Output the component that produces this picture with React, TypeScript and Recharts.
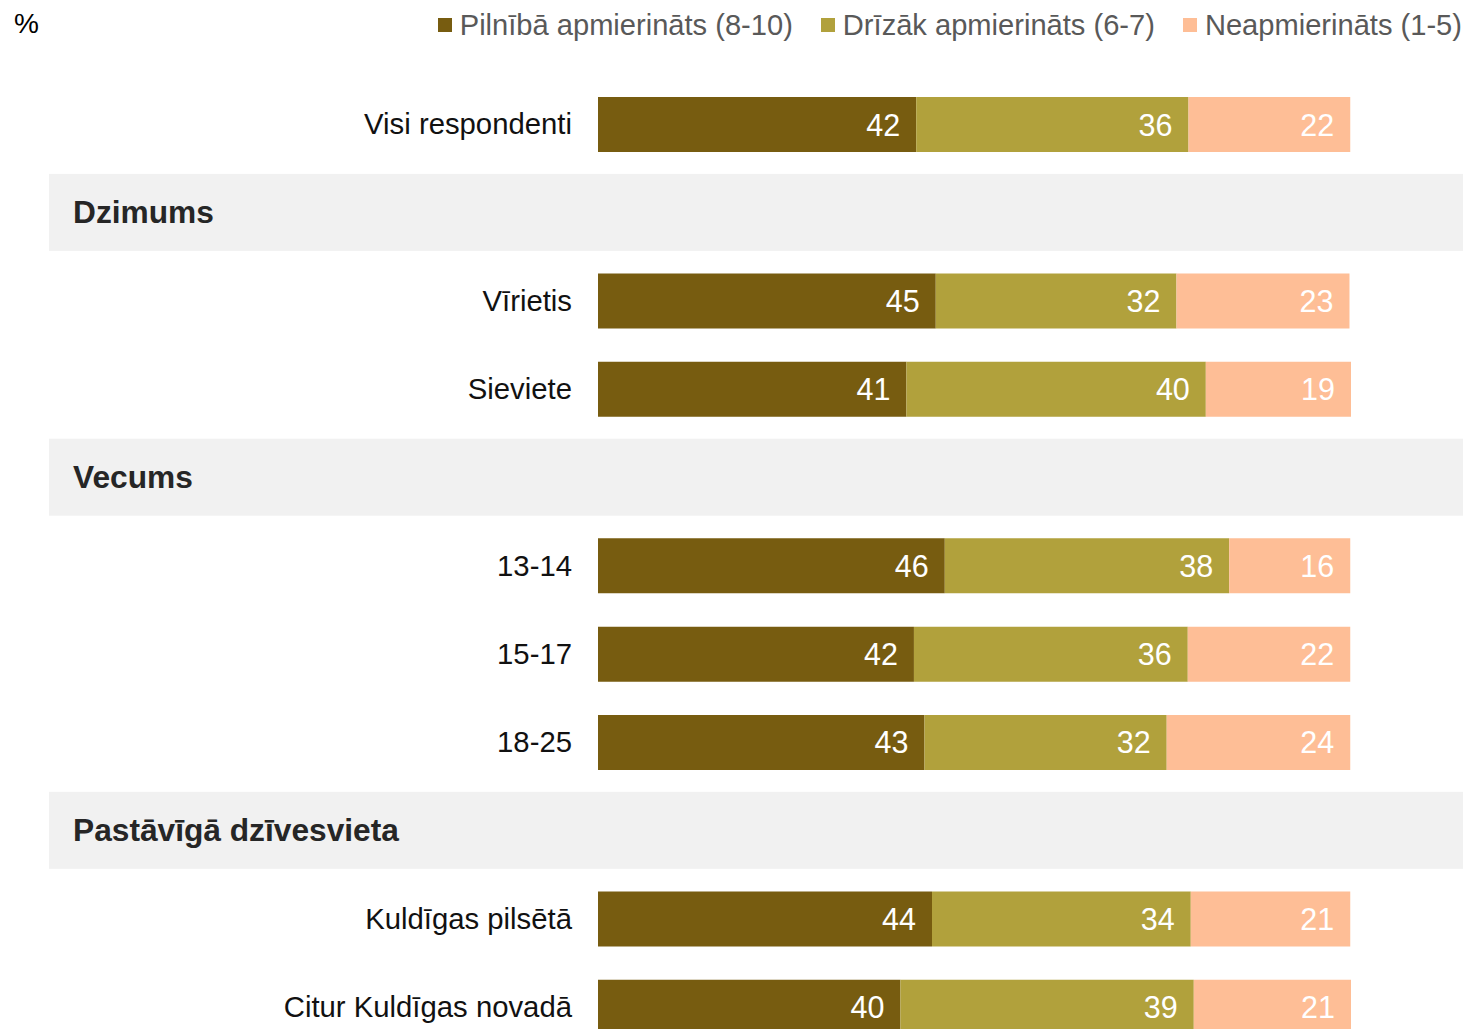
import { BarChart, Bar, XAxis, YAxis, LabelList } from "recharts";

const rows = [
  "Visi respondenti",
  "Dzimums",
  "Vīrietis",
  "Sieviete",
  "Vecums",
  "13-14",
  "15-17",
  "18-25",
  "Pastāvīgā dzīvesvieta",
  "Kuldīgas pilsētā",
  "Citur Kuldīgas novadā",
];
const headerRows = ["Dzimums", "Vecums", "Pastāvīgā dzīvesvieta"];

// null = section header row (no bar)
const fully = [42.3, null, 44.9, 41.0, null, 46.1, 42.0, 43.4, null, 44.4, 40.2];
const rather = [36.2, null, 32.0, 39.8, null, 37.8, 36.4, 32.2, null, 34.4, 39.0];
const unhappy = [21.5, null, 23.0, 19.3, null, 16.1, 21.6, 24.4, null, 21.2, 20.9];

const seriesNames = [
  "Pilnībā apmierināts (8-10)",
  "Drīzāk apmierināts (6-7)",
  "Neapmierināts (1-5)",
];
const colors = ["#775C10", "#B1A13C", "#FEBE96"];

const data = rows.map((name, i) => ({
  name,
  fully: fully[i],
  rather: rather[i],
  unhappy: unhappy[i],
}));

const FONT = '"Liberation Sans", Arial, sans-serif';

const RowTick = (props: any) => {
  const { y, payload } = props;
  const label = payload.value;
  if (headerRows.includes(label)) {
    return (
      <g>
        <rect x={49} y={y - 38.5} width={1414} height={77} fill="#F1F1F1" />
        <text
          x={73}
          y={y}
          dy={11}
          fontSize={31.7}
          fontWeight="bold"
          fill="#262626"
          fontFamily={FONT}
        >
          {label}
        </text>
      </g>
    );
  }
  return (
    <text
      x={572}
      y={y}
      dy={10}
      textAnchor="end"
      fontSize={29.3}
      fill="#111"
      fontFamily={FONT}
    >
      {label}
    </text>
  );
};

const ValueLabel = (props: any) => {
  const { x, y, width, height, value } = props;
  if (value == null) return null;
  return (
    <text
      x={x + width - 16}
      y={y + height / 2}
      dy={11}
      textAnchor="end"
      fontSize={30.5}
      fill="#fff"
      fontFamily={FONT}
    >
      {Math.round(value)}
    </text>
  );
};

export default function App() {
  return (
    <div
      style={{
        position: "fixed",
        left: 0,
        top: 0,
        width: 1463,
        height: 1029,
        overflow: "hidden",
        background: "#fff",
        fontFamily: FONT,
      }}
    >
      <div
        style={{
          position: "absolute",
          left: 14,
          top: 8,
          fontSize: 28,
          lineHeight: "32px",
          color: "#000",
        }}
      >
        %
      </div>
      <div
        style={{
          position: "absolute",
          right: 1,
          top: 8,
          display: "flex",
          alignItems: "center",
          fontSize: 29.1,
          lineHeight: "34px",
          color: "#595959",
          whiteSpace: "nowrap",
        }}
      >
        {seriesNames.map((s, i) => (
          <div
            key={s}
            style={{ display: "flex", alignItems: "center", marginLeft: i ? 28 : 0 }}
          >
            <span
              style={{
                width: 14,
                height: 14,
                background: colors[i],
                display: "inline-block",
                marginRight: 8,
              }}
            />
            <span>{s}</span>
          </div>
        ))}
      </div>
      <BarChart
        width={1463}
        height={1080}
        data={data}
        layout="vertical"
        margin={{ top: 80, right: 112, bottom: 29, left: 0 }}
        barSize={55}
      >
        <XAxis type="number" domain={[0, 100]} hide />
        <YAxis
          type="category"
          dataKey="name"
          width={598}
          axisLine={false}
          tickLine={false}
          tick={<RowTick />}
          interval={0}
        />
        <Bar dataKey="fully" stackId="a" fill={colors[0]} isAnimationActive={false}>
          <LabelList dataKey="fully" content={<ValueLabel />} />
        </Bar>
        <Bar dataKey="rather" stackId="a" fill={colors[1]} isAnimationActive={false}>
          <LabelList dataKey="rather" content={<ValueLabel />} />
        </Bar>
        <Bar dataKey="unhappy" stackId="a" fill={colors[2]} isAnimationActive={false}>
          <LabelList dataKey="unhappy" content={<ValueLabel />} />
        </Bar>
      </BarChart>
    </div>
  );
}
